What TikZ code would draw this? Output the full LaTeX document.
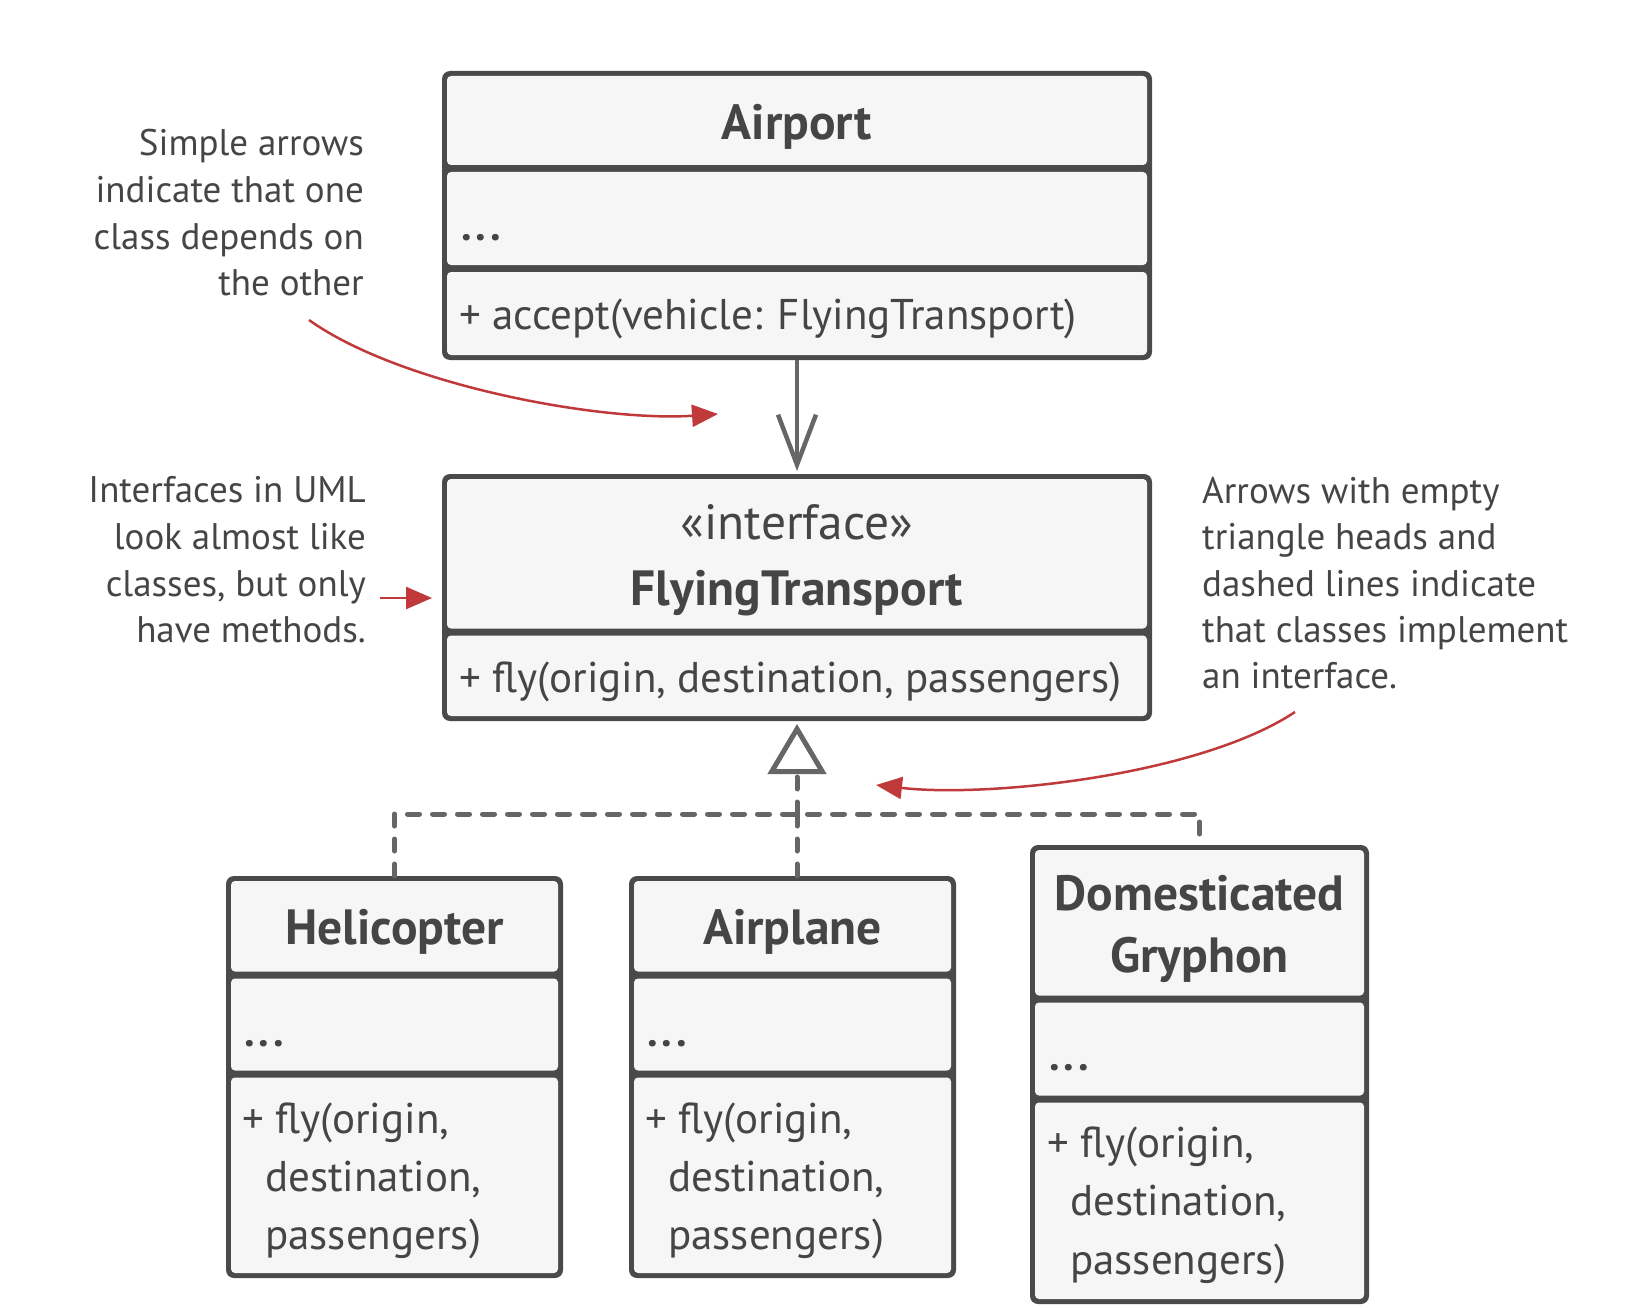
\documentclass[tikz,border=0pt]{standalone}
\usepackage{fontspec}
\setmainfont{PT Sans}
\usetikzlibrary{arrows.meta,fit}
\definecolor{boxdark}{HTML}{4A4A4A}
\definecolor{boxlight}{HTML}{F6F6F6}
\definecolor{txt}{HTML}{454545}
\definecolor{conn}{HTML}{666666}
\definecolor{note}{HTML}{C0393B}
\newcommand{\umldots}{{\bfseries .\kern4pt.\kern4pt.}}
\begin{document}
\begin{tikzpicture}[x=1pt,y=-1pt,
  outerbox/.style={fill=boxdark, rounded corners=8pt},
  compbox/.style={fill=boxlight, rounded corners=4pt},
  frame/.style={inner sep=0pt, outer sep=0pt, draw=none},
  title/.style={font=\fontsize{49.5}{58}\selectfont\bfseries, text=txt, inner sep=0pt, anchor=base},
  stereo/.style={font=\fontsize{49.5}{58}\selectfont, text=txt, inner sep=0pt, anchor=base},
  body/.style={font=\fontsize{43}{58}\selectfont, text=txt, inner sep=0pt, anchor=base west},
  notetext/.style={font=\fontsize{37}{46}\selectfont, text=txt, inner sep=0pt},
  noteR/.style={notetext, anchor=base east},
  noteL/.style={notetext, anchor=base west},
  dep/.style={conn, line width=4.5pt, shorten >=3pt, -{Straight Barb[length=50pt,width=38pt]}},
  impl/.style={conn, line width=5pt, dash pattern=on 12pt off 13pt, line cap=round},
  implhead/.style={impl, shorten >=3pt, -{Triangle[open, length=50pt, width=58pt, line cap=butt]}},
  redarrow/.style={note, line width=2.5pt, -{Triangle[length=26pt,width=22pt]}}
]
\useasboundingbox (0,0) rectangle (1632,1308);

% ---------- Airport ----------
\fill[outerbox] (442,71) rectangle (1152,360);
\fill[compbox] (447,76) rectangle (1147,165);
\fill[compbox] (447,172) rectangle (1147,265);
\fill[compbox] (447,272) rectangle (1147,355);
\node[frame, fit={(442,71)(1152,360)}] (airport) {};
\node[title] (airport-t) at (797,140) {Airport};
\node[body] (airport-f) at (461,240) {\umldots};
\node[body] (airport-m) at (459,329.5) {+ accept(vehicle: FlyingTransport)};

% ---------- Interface ----------
\fill[outerbox] (442,474) rectangle (1152,721);
\fill[compbox] (447,479) rectangle (1147,628.5);
\fill[compbox] (447,635.5) rectangle (1147,716);
\node[frame, fit={(442,474)(1152,721)}] (iface) {};
\node[stereo] (iface-s) at (797,539.5) {«interface»};
\node[title] (iface-t) at (797,605) {FlyingTransport};
\node[body] (iface-m) at (459,692.5) {+ fly(origin, destination, passengers)};

% ---------- Helicopter ----------
\fill[outerbox] (226,876) rectangle (563,1278);
\fill[compbox] (231,881) rectangle (558,971.5);
\fill[compbox] (231,978.5) rectangle (558,1070.5);
\fill[compbox] (231,1077.5) rectangle (558,1273);
\node[frame, fit={(226,876)(563,1278)}] (heli) {};
\node[title] (heli-t) at (394.5,944) {Helicopter};
\node[body] (heli-f) at (244,1046) {\umldots};
\node[body] (heli-m1) at (242,1133.5) {+ fly(origin,};
\node[body] (heli-m2) at (265,1191.5) {destination,};
\node[body] (heli-m3) at (265,1249.5) {passengers)};

% ---------- Airplane ----------
\fill[outerbox] (629,876) rectangle (956,1278);
\fill[compbox] (634,881) rectangle (951,971.5);
\fill[compbox] (634,978.5) rectangle (951,1070.5);
\fill[compbox] (634,1077.5) rectangle (951,1273);
\node[frame, fit={(629,876)(956,1278)}] (plane) {};
\node[title] (plane-t) at (792.5,944) {Airplane};
\node[body] (plane-f) at (647,1046) {\umldots};
\node[body] (plane-m1) at (645,1133.5) {+ fly(origin,};
\node[body] (plane-m2) at (668,1191.5) {destination,};
\node[body] (plane-m3) at (668,1249.5) {passengers)};

% ---------- Domesticated Gryphon ----------
\fill[outerbox] (1030,845) rectangle (1369,1304);
\fill[compbox] (1035,850) rectangle (1364,995.5);
\fill[compbox] (1035,1002.5) rectangle (1364,1095.5);
\fill[compbox] (1035,1102.5) rectangle (1364,1299);
\node[frame, fit={(1030,845)(1369,1304)}] (gry) {};
\node[title] (gry-t1) at (1199.5,910) {Domesticated};
\node[title] (gry-t2) at (1199.5,972) {Gryphon};
\node[body] (gry-f) at (1049,1070) {\umldots};
\node[body] (gry-m1) at (1047,1157.5) {+ fly(origin,};
\node[body] (gry-m2) at (1070,1215.5) {destination,};
\node[body] (gry-m3) at (1070,1274) {passengers)};

% ---------- Connectors ----------
\draw[dep] (airport.south) -- (iface.north);
\coordinate (j) at (797,814);
\draw[impl] (heli.north) |- (j) -| (gry.north);
\draw[impl] (j) -- (j |- plane.north);
\draw[implhead] (j) -- (iface.south);

% ---------- Notes ----------
\node[noteR] (n1a) at (364,156) {Simple arrows};
\node[noteR] (n1b) at (364,202) {indicate that one};
\node[noteR] (n1c) at (364,249) {class depends on};
\node[noteR] (n1d) at (364,295) {the other};
\coordinate (n1s) at (309,320);
\coordinate (n1e) at (718,414);
\draw[redarrow] (n1s) .. controls (400,385) and (600,422) .. (n1e);

\node[noteR] (n2a) at (366,502) {Interfaces in UML};
\node[noteR] (n2b) at (366,549) {look almost like};
\node[noteR] (n2c) at (366,596) {classes, but only};
\node[noteR] (n2d) at (366,642) {have methods.};
\coordinate (n2s) at (380,598);
\coordinate (n2e) at (432,598);
\draw[redarrow] (n2s) -- (n2e);

\node[noteL] (n3a) at (1202,503) {Arrows with empty};
\node[noteL] (n3b) at (1202,549) {triangle heads and};
\node[noteL] (n3c) at (1202,596) {dashed lines indicate};
\node[noteL] (n3d) at (1202,642) {that classes implement};
\node[noteL] (n3e) at (1202,688) {an interface.};
\coordinate (n3s) at (1295,712);
\coordinate (n3e2) at (876,785);
\draw[redarrow] (n3s) .. controls (1200,775) and (990,798) .. (n3e2);
\end{tikzpicture}
\end{document}
